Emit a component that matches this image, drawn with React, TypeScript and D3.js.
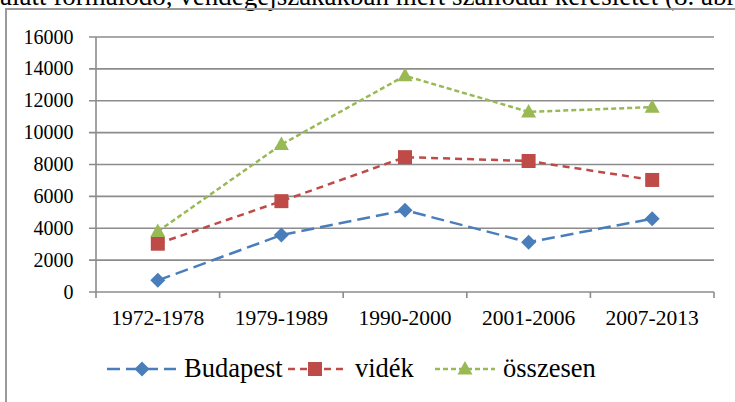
import React from 'react'
import * as d3 from 'd3'

const periods = ['1972-1978', '1979-1989', '1990-2000', '2001-2006', '2007-2013']
const budapest = [730, 3570, 5130, 3120, 4600]
const videk = [3030, 5700, 8460, 8220, 7030]
const osszesen = [3800, 9250, 13570, 11300, 11600]
const yTicks = [0, 2000, 4000, 6000, 8000, 10000, 12000, 14000, 16000]
const names = ['Budapest', 'vidék', 'összesen']

const W = 735
const H = 402
const left = 96
const right = 714
const top = 37
const bottom = 292

const grid = '#8c8c8c'
const font = '"Liberation Serif", "Times New Roman", serif'

const series = [
  { name: names[0], values: budapest, color: '#4a7ebb', dash: '13 6', marker: 'diamond' },
  { name: names[1], values: videk, color: '#be4b48', dash: '7 5', marker: 'square' },
  { name: names[2], values: osszesen, color: '#98b954', dash: '5 3', marker: 'triangle' },
]

const Marker = ({ kind, x, y, color }) => {
  if (kind === 'diamond') {
    return <path d={`M${x},${y - 7.5}L${x + 7.5},${y}L${x},${y + 7.5}L${x - 7.5},${y}Z`} fill={color} />
  }
  if (kind === 'square') {
    return <rect x={x - 7} y={y - 7} width={14} height={14} fill={color} />
  }
  return <path d={`M${x},${y - 8}L${x + 7.5},${y + 5.5}L${x - 7.5},${y + 5.5}Z`} fill={color} />
}

const App = () => {
  const x = d3.scaleBand().domain(periods).range([left, right])
  const y = d3.scaleLinear().domain([0, 16000]).range([bottom, top])
  const cx = (p) => x(p) + x.bandwidth() / 2
  const line = d3.line().x((d) => d[0]).y((d) => d[1])
  const bounds = periods.map((p) => x(p)).concat([right])

  const legend = [
    { lx0: 107, lx1: 176, mx: 142, tx: 184 },
    { lx0: 288, lx1: 343, mx: 315, tx: 355 },
    { lx0: 435, lx1: 495, mx: 465, tx: 503 },
  ]
  const ly = 369

  return (
    <svg width={W} height={H} style={{ position: 'absolute', left: 0, top: 0, background: '#fff' }}>
      <text x={0} y={4.5} fontFamily={font} fontSize={27} fill="#000">
        alatt formálódó, vendégéjszakákban mért szállodai keresletet (8. ábra)
      </text>
      <rect x={6} y={9} width={800} height={500} fill="none" stroke="#9a9a9a" strokeWidth={2} />

      {yTicks.map((t) => (
        <g key={t}>
          <line x1={89} x2={right} y1={y(t)} y2={y(t)} stroke={grid} strokeWidth={1.6} />
          <text x={73.5} y={y(t) + 6.5} textAnchor="end" fontFamily={font} fontSize={20}>
            {t}
          </text>
        </g>
      ))}
      <line x1={left} x2={left} y1={top} y2={bottom} stroke={grid} strokeWidth={1.6} />
      {bounds.map((b, i) => (
        <line key={i} x1={b} x2={b} y1={bottom} y2={bottom + 6} stroke={grid} strokeWidth={1.6} />
      ))}
      {periods.map((p) => (
        <text key={p} x={cx(p)} y={324.5} textAnchor="middle" fontFamily={font} fontSize={21.5}>
          {p}
        </text>
      ))}

      {series.map((s) => (
        <g key={s.name}>
          <path
            d={line(s.values.map((v, i) => [cx(periods[i]), y(v)]))}
            fill="none"
            stroke={s.color}
            strokeWidth={2.5}
            strokeDasharray={s.dash}
          />
          {s.values.map((v, i) => (
            <Marker key={i} kind={s.marker} x={cx(periods[i])} y={y(v)} color={s.color} />
          ))}
        </g>
      ))}

      {series.map((s, i) => (
        <g key={s.name}>
          <line x1={legend[i].lx0} x2={legend[i].lx1} y1={ly} y2={ly} stroke={s.color} strokeWidth={2.5} strokeDasharray={s.dash} />
          <Marker kind={s.marker} x={legend[i].mx} y={ly} color={s.color} />
          <text x={legend[i].tx} y={377} fontFamily={font} fontSize={26.5}>
            {s.name}
          </text>
        </g>
      ))}
    </svg>
  )
}

export default App
